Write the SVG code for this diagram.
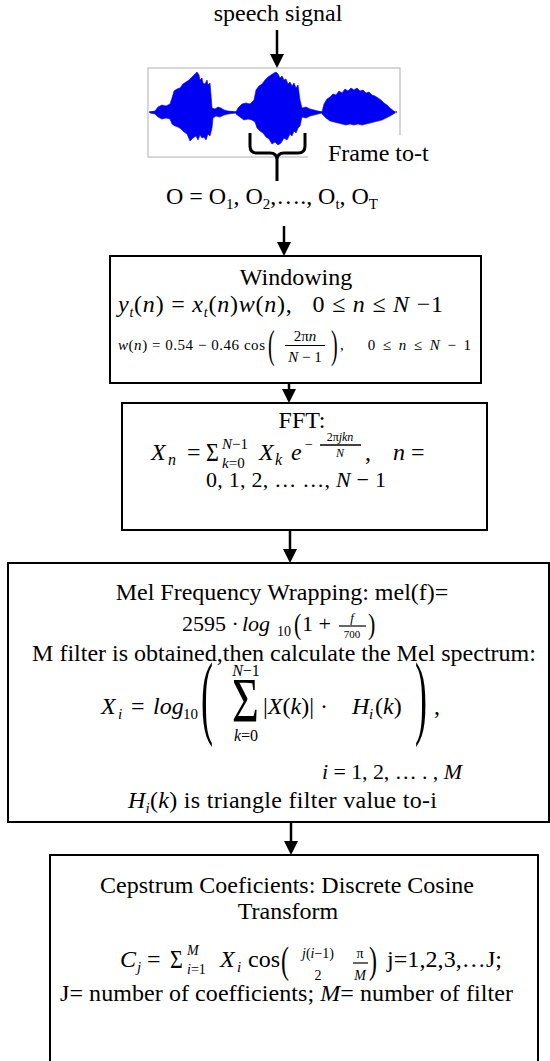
<svg xmlns="http://www.w3.org/2000/svg" width="550" height="1061" viewBox="0 0 550 1061">
<style>
.t{font-family:"Liberation Serif","Times New Roman",serif;fill:#000}
.i{font-style:italic}
.box{fill:none;stroke:#000;stroke-width:2}
.conn{stroke:#000;stroke-width:2.5;fill:none;marker-end:url(#ah)}
.bar{stroke:#000;stroke-width:1.2}
.wave{fill:#0000f5;stroke:#0000f5;stroke-width:0.6}
</style>
<defs>
<marker id="ah" markerUnits="userSpaceOnUse" markerWidth="14" markerHeight="14" viewBox="0 0 14 14" refX="11" refY="7" orient="auto"><path d="M0,0 L14,7 L0,14 z" fill="#000"/></marker>
</defs>
<rect width="550" height="1061" fill="#fff"/>

<g id="speech-signal">
<text class="t" x="278" y="21" font-size="24" text-anchor="middle">speech signal</text>
<rect x="148" y="68" width="252" height="89" fill="#fff" stroke="#bdbdbd" stroke-width="1.2"/>
<line x1="149" y1="112" x2="397" y2="112" stroke="#3a3aff" stroke-width="1.5"/>
<path class="wave" d="M150,112 L155,111 158,107 162,105 166,106 170,104 172,98 174,91 177,89 180,88 183,84 186,82 189,80 191,78 193,76 195,74 197,72 199,75 200,80 202,78 203,83 205,84 207,80 208,85 210,83 211,95 212,108 215,109 218,107 221,108 224,110 228,111 236,112 L236,113 228,114 224,115 220,117 216,116 213,118 212,128 210,136 208,134 206,140 204,137 202,138 200,135 198,140 196,136 193,138 190,141 187,134 184,132 181,129 178,127 175,126 172,124 170,119 166,118 162,119 158,117 155,114 150,113 Z"/>
<path class="wave" d="M236,112 L238,108 242,104 246,103 250,104 254,100 256,90 259,86 262,84 265,80 268,77 271,75 274,73 276,72 278,74 280,78 282,76 284,80 286,79 288,84 290,82 292,86 294,83 296,88 298,85 300,100 302,108 306,107 310,109 314,110 322,112 L322,113 314,115 310,116 306,118 302,117 300,126 298,128 296,133 294,131 292,136 290,134 287,140 284,138 281,143 278,145 275,142 272,144 269,139 266,137 263,133 260,131 257,128 255,122 252,120 248,119 244,120 240,117 236,114 Z"/>
<path class="wave" d="M322,112 L324,104 327,99 330,97 333,94 336,95 339,91 342,93 345,89 348,91 351,88 354,90 357,88 360,91 363,90 366,93 369,92 372,95 375,96 378,98 381,100 384,103 387,105 390,108 395,112 L395,113 390,116 386,118 382,120 378,121 374,122 370,123 366,124 362,125 358,124 354,125 350,124 346,125 342,124 338,123 334,122 330,121 326,118 322,114 Z"/>
<path d="M250,133 V146 Q250,153 257,153 H270 Q277,153 277,160 V181 M305,133 V146 Q305,153 298,153 H284 Q277,153 277,160" fill="none" stroke="#000" stroke-width="3"/>
<rect x="308" y="135" width="125" height="35" fill="#fff"/>
<text class="t" x="328" y="161" font-size="24">Frame to-t</text>
<text class="t" x="166" y="204" font-size="24" textLength="212" lengthAdjust="spacing">O = O<tspan font-size="15" dy="5">1</tspan><tspan dy="-5">, O</tspan><tspan font-size="15" dy="5">2</tspan><tspan dy="-5">,…., O</tspan><tspan font-size="15" dy="5">t</tspan><tspan dy="-5">, O</tspan><tspan font-size="15" dy="5">T</tspan></text>
</g>

<g id="windowing">
<rect class="box" x="110" y="256" width="371" height="127"/>
<text class="t" x="296" y="285" font-size="24" text-anchor="middle">Windowing</text>
<text class="t" x="118" y="312" font-size="24" textLength="325" lengthAdjust="spacing"><tspan class="i">y</tspan><tspan class="i" font-size="14" dy="5">t</tspan><tspan dy="-5">(</tspan><tspan class="i">n</tspan>) = <tspan class="i">x</tspan><tspan class="i" font-size="14" dy="5">t</tspan><tspan dy="-5">(</tspan><tspan class="i">n</tspan>)<tspan class="i">w</tspan>(<tspan class="i">n</tspan>),<tspan dx="20">0 ≤ </tspan><tspan class="i">n</tspan> ≤ <tspan class="i">N</tspan> −1</text>
<text class="t" x="118" y="350" font-size="15" textLength="147" lengthAdjust="spacing"><tspan class="i">w</tspan>(<tspan class="i">n</tspan>) = 0.54 − 0.46 cos</text>
<text class="t" font-size="20" transform="translate(268,358) scale(1,2.05)">(</text>
<text class="t" x="305" y="341" font-size="15" text-anchor="middle">2π<tspan class="i">n</tspan></text>
<line class="bar" x1="285" y1="345.5" x2="325" y2="345.5"/>
<text class="t" x="305" y="362" font-size="15" text-anchor="middle"><tspan class="i">N</tspan> − 1</text>
<text class="t" font-size="20" transform="translate(331,358) scale(1,2.05)">)</text>
<text class="t" x="340" y="350" font-size="15" textLength="131" lengthAdjust="spacing">,<tspan dx="22">0 ≤ </tspan><tspan class="i">n</tspan> ≤ <tspan class="i">N</tspan> − 1</text>
</g>

<g id="fft">
<rect class="box" x="122" y="403" width="365" height="127"/>
<text class="t" x="302" y="428" font-size="24" text-anchor="middle">FFT:</text>
<text class="t i" x="151" y="460" font-size="24">X</text>
<text class="t i" x="168" y="465" font-size="16">n</text>
<text class="t" x="187" y="460" font-size="24">=</text>
<text class="t" font-size="22" transform="translate(206,461) scale(1,1.1)">Σ</text>
<text class="t" x="222" y="449" font-size="15"><tspan class="i">N</tspan>−1</text>
<text class="t" x="222" y="468" font-size="15"><tspan class="i">k</tspan>=0</text>
<text class="t i" x="259" y="460" font-size="24">X</text>
<text class="t i" x="275" y="465" font-size="16">k</text>
<text class="t i" x="291" y="460" font-size="24">e</text>
<text class="t" x="305" y="449" font-size="14">−</text>
<text class="t" x="340" y="441" font-size="12" text-anchor="middle">2π<tspan class="i">jkn</tspan></text>
<line x1="320" y1="445" x2="361" y2="445" stroke="#000" stroke-width="1.6"/>
<text class="t i" x="340" y="457" font-size="12" text-anchor="middle">N</text>
<text class="t" x="365" y="460" font-size="24">,</text>
<text class="t" x="393" y="460" font-size="24"><tspan class="i">n</tspan> =</text>
<text class="t" x="296" y="487" font-size="22" text-anchor="middle" textLength="180" lengthAdjust="spacing">0, 1, 2, … …, <tspan class="i">N</tspan> − 1</text>
</g>

<g id="mel">
<rect class="box" x="8" y="563" width="541" height="259"/>
<text class="t" x="282" y="600" font-size="24" text-anchor="middle">Mel Frequency Wrapping: mel(f)=</text>
<text class="t" x="182" y="631" font-size="22">2595 ·</text>
<text class="t i" x="242" y="631" font-size="22">log</text>
<text class="t" x="277" y="636" font-size="14">10</text>
<text class="t" font-size="22" transform="translate(294,634) scale(1,1.35)">(</text>
<text class="t" x="302" y="631" font-size="22">1 +</text>
<text class="t i" x="352" y="622" font-size="13" text-anchor="middle">f</text>
<line class="bar" x1="339" y1="626" x2="366" y2="626"/>
<text class="t" x="352" y="638" font-size="11" text-anchor="middle">700</text>
<text class="t" font-size="22" transform="translate(368,634) scale(1,1.35)">)</text>
<text class="t" x="284" y="661" font-size="24" text-anchor="middle">M filter is obtained,then calculate the Mel spectrum:</text>
<text class="t i" x="101" y="714" font-size="24">X</text>
<text class="t i" x="118" y="719" font-size="15">i</text>
<text class="t" x="131" y="714" font-size="24">=</text>
<text class="t i" x="153" y="714" font-size="24">log</text>
<text class="t" x="183" y="719" font-size="15">10</text>
<text class="t" font-size="40" transform="translate(201,727) scale(0.9,2.31)">(</text>
<text class="t" x="246" y="676" font-size="16" text-anchor="middle"><tspan class="i">N</tspan>−1</text>
<text class="t" font-size="44" transform="translate(232,722) scale(1.05,1.45)">Σ</text>
<text class="t" x="246" y="741" font-size="16" text-anchor="middle"><tspan class="i">k</tspan>=0</text>
<text class="t" x="263" y="714" font-size="24">|<tspan class="i">X</tspan>(<tspan class="i">k</tspan>)| ·</text>
<text class="t i" x="352" y="714" font-size="24">H</text>
<text class="t i" x="369" y="719" font-size="15">i</text>
<text class="t" x="375" y="714" font-size="24">(<tspan class="i">k</tspan>)</text>
<text class="t" font-size="40" transform="translate(415,727) scale(0.9,2.31)">)</text>
<text class="t" x="434" y="714" font-size="24">,</text>
<text class="t" x="322" y="779" font-size="22" textLength="140" lengthAdjust="spacing"><tspan class="i">i</tspan> = 1, 2, … . , <tspan class="i">M</tspan></text>
<text class="t" x="128" y="808" font-size="24" textLength="309" lengthAdjust="spacing"><tspan class="i">H</tspan><tspan class="i" font-size="15" dy="5">i</tspan><tspan dy="-5">(</tspan><tspan class="i">k</tspan>) is triangle filter value to-i</text>
</g>

<g id="cepstrum">
<rect class="box" x="50" y="855" width="488" height="230"/>
<text class="t" x="287" y="893" font-size="24" text-anchor="middle">Cepstrum Coeficients: Discrete Cosine</text>
<text class="t" x="288" y="919" font-size="24" text-anchor="middle">Transform</text>
<text class="t i" x="120" y="967" font-size="24">C</text>
<text class="t i" x="137" y="972" font-size="15">j</text>
<text class="t" x="147" y="967" font-size="24">=</text>
<text class="t" font-size="22" transform="translate(170,968) scale(1,1.1)">Σ</text>
<text class="t i" x="187" y="955" font-size="14">M</text>
<text class="t" x="187" y="974" font-size="14"><tspan class="i">i</tspan>=1</text>
<text class="t i" x="220" y="967" font-size="24">X</text>
<text class="t i" x="237" y="972" font-size="15">i</text>
<text class="t" x="248" y="967" font-size="24">cos</text>
<text class="t" font-size="24" transform="translate(281,973) scale(1,1.55)">(</text>
<text class="t" x="318" y="958" font-size="14" text-anchor="middle"><tspan class="i">j</tspan>(<tspan class="i">i</tspan>−1)</text>
<text class="t" x="318" y="980" font-size="14" text-anchor="middle">2</text>
<text class="t" x="360" y="958" font-size="14" text-anchor="middle">π</text>
<line class="bar" x1="353" y1="963" x2="368" y2="963"/>
<text class="t i" x="360" y="980" font-size="14" text-anchor="middle">M</text>
<text class="t" font-size="24" transform="translate(369,973) scale(1,1.55)">)</text>
<text class="t" x="387" y="967" font-size="24" textLength="115" lengthAdjust="spacing">j=1,2,3,…J;</text>
<text class="t" x="60" y="1001" font-size="24" textLength="453" lengthAdjust="spacing">J= number of coefficients; <tspan class="i">M</tspan>= number of filter</text>
</g>

<g id="connectors">
<line class="conn" x1="277" y1="30" x2="277" y2="65"/>
<line class="conn" x1="284" y1="226" x2="284" y2="253"/>
<line class="conn" x1="289" y1="383" x2="289" y2="400"/>
<line class="conn" x1="290" y1="530" x2="290" y2="560"/>
<line class="conn" x1="291" y1="822" x2="291" y2="852"/>
</g>
</svg>
